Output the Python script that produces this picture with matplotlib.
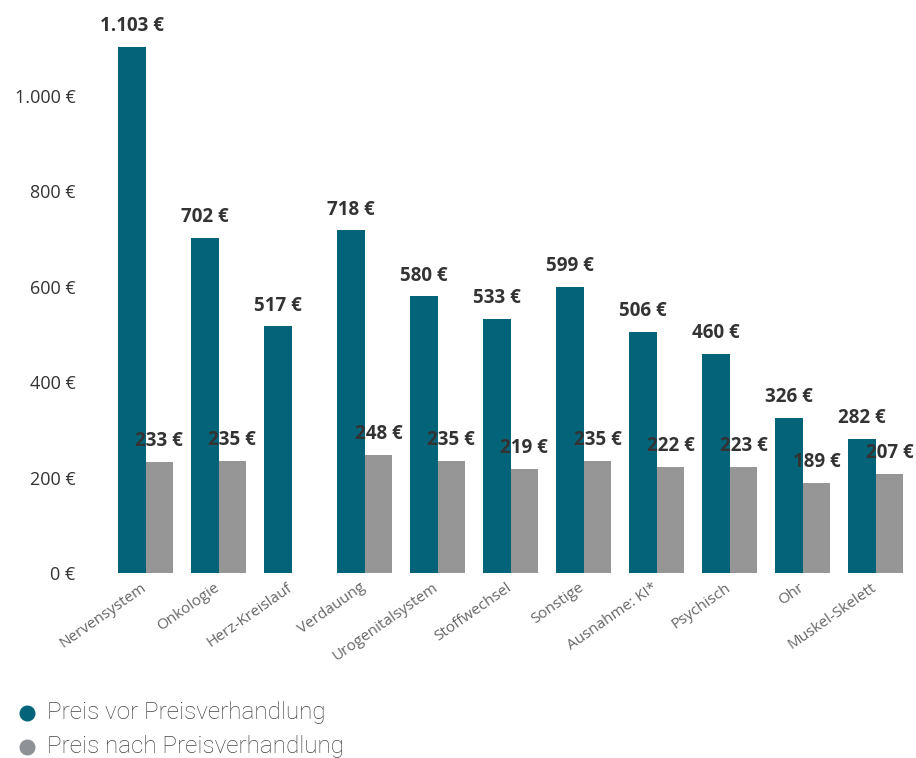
import matplotlib.pyplot as plt
import matplotlib.transforms as mtransforms
from matplotlib.lines import Line2D
import numpy as np

categories = ["Nervensystem", "Onkologie", "Herz-Kreislauf", "Verdauung",
              "Urogenitalsystem", "Stoffwechsel", "Sonstige", "Ausnahme: KI*",
              "Psychisch", "Ohr", "Muskel-Skelett"]
preis_vor = [1103, 702, 517, 718, 580, 533, 599, 506, 460, 326, 282]
preis_nach = [233, 235, np.nan, 248, 235, 219, 235, 222, 223, 189, 207]
y_ticks = [0, 200, 400, 600, 800, 1000]
legend_labels = ["Preis vor Preisverhandlung", "Preis nach Preisverhandlung"]

teal = "#036379"
grey = "#969696"
legend_grey = "#8e9297"


def euro(v):
    return f"{v:,.0f} €".replace(",", ".")


plt.rcParams["font.family"] = ["Open Sans", "DejaVu Sans"]

fig = plt.figure(figsize=(9.16, 7.58), dpi=100)
ax = fig.add_axes([0.119, 0.244, 0.877, 0.7427])

x = np.arange(len(categories))
w = 0.377
ax.bar(x - w / 2, preis_vor, width=w, color=teal)
ax.bar(x + w / 2, preis_nach, width=w, color=grey)

# value labels, drawn above the bars
for xi, v in zip(x, preis_vor):
    ax.annotate(euro(v), (xi - w / 2, v), xytext=(0, 15), textcoords="offset points",
                ha="center", va="center", fontsize=13.5, fontweight="bold", color="#333333")
for xi, v in zip(x, preis_nach):
    if np.isnan(v):
        continue
    ax.annotate(euro(v), (xi + w / 2, v), xytext=(0, 15), textcoords="offset points",
                ha="center", va="center", fontsize=13.5, fontweight="bold", color="#333333")

ax.set_xlim(-0.5, len(categories) - 0.5)
ax.set_ylim(0, 1180)
ax.set_yticks(y_ticks)
ax.set_yticklabels([euro(t) for t in y_ticks], fontsize=13, color="#333333")
ax.set_xticks(x)
ax.set_xticklabels(categories, rotation=35, ha="right", rotation_mode="anchor",
                   fontsize=11, color="#666666")
ax.tick_params(axis="both", length=0)
ax.tick_params(axis="y", pad=24)
ax.tick_params(axis="x", pad=5)
# nudge the category labels a little to the left
shift = mtransforms.ScaledTranslation(-5 / 100, 0, fig.dpi_scale_trans)
for lab in ax.get_xticklabels():
    lab.set_transform(lab.get_transform() + shift)
for s in ax.spines.values():
    s.set_visible(False)

# legend at the bottom
for col, lab, ypx in zip([teal, legend_grey], legend_labels, [713, 747]):
    yf = 1 - ypx / 758
    fig.add_artist(Line2D([27 / 916], [yf], marker="o", markersize=10.5, color=col,
                          linestyle="none", transform=fig.transFigure))
    fig.text(47 / 916, yf, lab, va="center", fontsize=17.5, color="#444444",
             family=["Roboto", "DejaVu Sans"], fontweight="light")

fig.savefig("out.png", dpi=100)
